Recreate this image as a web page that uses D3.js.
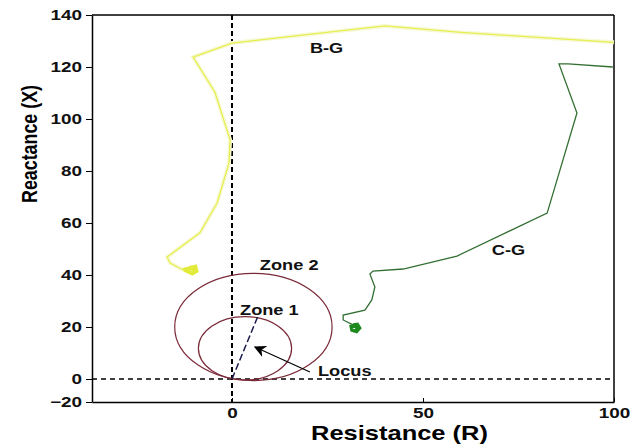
<!DOCTYPE html>
<html>
<head>
<meta charset="utf-8">
<script src="https://cdn.jsdelivr.net/npm/d3@7"></script>
<style>
  body { margin: 0; background: #fff; }
  text { font-family: "Liberation Sans", Arial, sans-serif; font-weight: bold; }
</style>
</head>
<body>
<div id="chart"></div>
<script>
// impedance trajectories, [R, X]
var bgPath = [[100,129.5],[60,133.3],[40,135.8],[23,133],[0,129.2],[-10.2,123.8],[-4.5,110.4],
  [-0.5,92],[-0.8,83],[-3.9,67.7],[-8.4,56.2],[-17,46.9],[-16.2,44.6],[-12.8,41.9]];
var bgTail = [[-12.8,41.9],[-11,42.6],[-9.6,43.2],[-9.3,41.5],[-10.4,40.6],[-11.6,41.4],[-10.8,42.8],[-9.8,42]];
var cgPath = [[99.7,120],[88,121.2],[85.6,121.2],[90.3,102.3],[82.5,63.8],[58.9,47.3],[44.8,42.3],
  [36.9,41.5],[36.1,40.4],[37.4,35.4],[36.6,30.4],[34.8,26.5],[29.1,24.6],[29.1,22.7],[31.7,20.8]];
var cgTail = [[31.7,20.8],[32.8,21],[33.4,19.6],[32.6,18.3],[31.4,18.8],[31.2,20.2],[32.4,20.4],[32.8,19.2]];

// mho zones: centre R, centre X, radius
var zones = [{c: [5.6, 20], r: 20.6}, {c: [3.4, 11.8], r: 12.2}];
var diameter = [[0,0],[6.8,24.2]];
var locusArrow = [[20.4,2.7],[6,12.3]];

var xTicks = [0, 50, 100];
var yTicks = [-20, 0, 20, 40, 60, 80, 100, 120, 140];

var labels = [
  {text: "B-G", r: 20.4, x: 125.4},
  {text: "C-G", r: 68, x: 47.7},
  {text: "Zone 2", r: 7.3, x: 41.9},
  {text: "Zone 1", r: 2.1, x: 24.6},
  {text: "Locus", r: 22.5, x: 1.2}
];

var margin = {top: 15, right: 26, bottom: 45, left: 92},
    width = 640 - margin.left - margin.right,
    height = 447 - margin.top - margin.bottom;

var svg = d3.select("#chart")
  .append("svg")
    .attr("width", 640)
    .attr("height", 447)
  .append("g")
    .attr("transform", "translate(" + margin.left + "," + margin.top + ")");

var x = d3.scaleLinear().domain([-36.65, 100]).range([0, width]);
var y = d3.scaleLinear().domain([-8.85, 140]).range([height, 0]).clamp(true);

// stretch text sideways like the source picture
function widen(sel, k) {
  sel.each(function() {
    var len = this.getComputedTextLength();
    d3.select(this).attr("textLength", len * k).attr("lengthAdjust", "spacingAndGlyphs");
  });
}

// frame
svg.append("line").attr("x1", 0).attr("x2", width).attr("y1", 0).attr("y2", 0)
  .attr("stroke", "#000").attr("stroke-width", 1.5);
svg.append("line").attr("x1", width).attr("x2", width).attr("y1", 0).attr("y2", height)
  .attr("stroke", "#000").attr("stroke-width", 1.5);

// axes
var gx = svg.append("g")
  .attr("transform", "translate(0," + height + ")")
  .call(d3.axisBottom(x).tickValues(xTicks).tickSizeInner(-4).tickSizeOuter(0).tickPadding(6));
var gy = svg.append("g")
  .call(d3.axisLeft(y).tickValues(yTicks).tickSizeInner(6).tickSizeOuter(0).tickPadding(4));
[gx, gy].forEach(function(g) {
  g.select(".domain").attr("stroke-width", 1.5);
  g.selectAll("text").attr("font-size", 14).attr("font-family", null).attr("fill", "#111");
  widen(g.selectAll("text"), 1.35);
});

// dashed reference axes
svg.append("line").attr("x1", x(0)).attr("x2", x(0)).attr("y1", 0).attr("y2", height)
  .attr("stroke", "#000").attr("stroke-width", 2).attr("stroke-dasharray", "5,3");
svg.append("line").attr("x1", 0).attr("x2", width).attr("y1", y(0)).attr("y2", y(0))
  .attr("stroke", "#000").attr("stroke-width", 1.4).attr("stroke-dasharray", "5,4");

// zones
svg.selectAll(".zone")
  .data(zones)
  .enter()
  .append("ellipse")
    .attr("cx", function(d) { return x(d.c[0]); })
    .attr("cy", function(d) { return y(d.c[1]); })
    .attr("rx", function(d) { return x(d.r) - x(0); })
    .attr("ry", function(d) { return y(0) - y(d.r); })
    .attr("fill", "none")
    .attr("stroke", "#7a2a38")
    .attr("stroke-width", 1.2);

var line = d3.line().x(function(d) { return x(d[0]); }).y(function(d) { return y(d[1]); });

svg.append("path").attr("d", line(diameter))
  .attr("stroke", "#1a1a4a").attr("stroke-width", 1.5).attr("stroke-dasharray", "7,3").attr("fill", "none");

// trajectories
svg.append("path").attr("d", line(bgPath))
  .attr("fill", "none").attr("stroke", "#f7f9d6").attr("stroke-width", 4);
svg.append("path").attr("d", line(bgPath))
  .attr("fill", "none").attr("stroke", "#e6ee52").attr("stroke-width", 1.3);
svg.append("path").attr("d", line(bgTail))
  .attr("fill", "none").attr("stroke", "#e2ea3a").attr("stroke-width", 4);

svg.append("path").attr("d", line(cgPath))
  .attr("fill", "none").attr("stroke", "#336f33").attr("stroke-width", 1.3);
svg.append("path").attr("d", line(cgTail))
  .attr("fill", "none").attr("stroke", "#1e8a1e").attr("stroke-width", 3.5);

// locus arrow
svg.append("defs").append("marker")
    .attr("id", "head")
    .attr("viewBox", "0 0 10 10")
    .attr("refX", 9).attr("refY", 5)
    .attr("markerWidth", 12).attr("markerHeight", 12)
    .attr("markerUnits", "userSpaceOnUse")
    .attr("orient", "auto")
  .append("path").attr("d", "M0,0L10,5L0,10L3,5Z").attr("fill", "#000");
svg.append("path").attr("d", line(locusArrow))
  .attr("stroke", "#000").attr("stroke-width", 1.2).attr("fill", "none")
  .attr("marker-end", "url(#head)");

// labels
var lab = svg.selectAll(".lab")
  .data(labels)
  .enter()
  .append("text")
    .attr("x", function(d) { return x(d.r); })
    .attr("y", function(d) { return y(d.x); })
    .attr("font-size", 14)
    .attr("fill", "#111")
    .text(function(d) { return d.text; });
widen(lab, 1.3);

// axis titles
svg.append("text")
  .attr("x", 399.5 - margin.left)
  .attr("y", 440 - margin.top)
  .attr("text-anchor", "middle")
  .attr("font-size", 21)
  .attr("textLength", 177).attr("lengthAdjust", "spacingAndGlyphs")
  .text("Resistance (R)");
svg.append("text")
  .attr("transform", "translate(" + (37 - margin.left) + "," + (144 - margin.top) + ")rotate(-90)")
  .attr("text-anchor", "middle")
  .attr("font-size", 22)
  .attr("textLength", 118).attr("lengthAdjust", "spacingAndGlyphs")
  .text("Reactance (X)");
</script>
</body>
</html>
